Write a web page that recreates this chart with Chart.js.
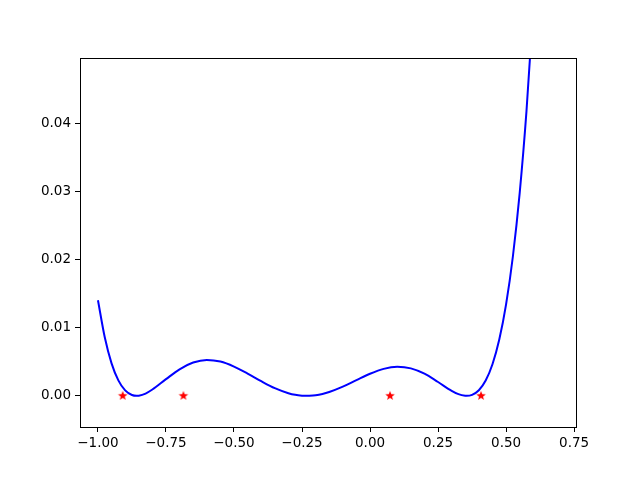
<!DOCTYPE html>
<html>
<head>
<meta charset="utf-8">
<script src="https://cdn.jsdelivr.net/npm/chart.js@4"></script>
<style>
  html, body { margin: 0; padding: 0; background: #fff; }
  #wrap { width: 640px; height: 480px; }
</style>
</head>
<body>
<div id="wrap"><canvas id="c" width="640" height="480"></canvas></div>
<script>
// curve samples
const curveX = [-1.00, -0.975, -0.95, -0.925, -0.90, -0.875, -0.858, -0.85, -0.825, -0.80,
  -0.75, -0.70, -0.65, -0.60, -0.55, -0.50, -0.45, -0.40, -0.35, -0.30,
  -0.275, -0.25, -0.233, -0.225, -0.20, -0.175, -0.15, -0.10, -0.05, 0.00,
  0.05, 0.10, 0.15, 0.20, 0.25, 0.30, 0.325, 0.35, 0.355, 0.375,
  0.40, 0.425, 0.45, 0.475, 0.50, 0.525, 0.55, 0.575, 0.60, 0.625];
const curveY = [0.01403, 0.00859, 0.00477, 0.00227, 0.00080, 0.00012, 0, 0.00002, 0.00034, 0.00093,
  0.00245, 0.00390, 0.00489, 0.00527, 0.00503, 0.00430, 0.00327, 0.00215, 0.00113, 0.00039,
  0.00015, 0.00003, 0, 0.00001, 0.00009, 0.00028, 0.00057, 0.00136, 0.00231, 0.00324,
  0.00396, 0.00426, 0.00403, 0.00325, 0.00203, 0.00074, 0.00025, 0.00001, 0, 0.00015,
  0.00083, 0.00225, 0.00464, 0.00826, 0.01342, 0.02045, 0.02976, 0.04179, 0.0570, 0.0760];

// red star markers
const starX = [-0.909, -0.686, 0.0735, 0.408];
const starY = [0, 0, 0, 0];

const xTicks = [-1.00, -0.75, -0.50, -0.25, 0.00, 0.25, 0.50, 0.75];
const yTicks = [0.00, 0.01, 0.02, 0.03, 0.04];

const fmt = (v, d) => {
  const s = Math.abs(v).toFixed(d);
  return (v < -1e-9 ? '\u2212' : '') + s;
};

// filled five-point star like matplotlib '*'
function makeStar(r) {
  const size = Math.ceil(r * 2 + 2);
  const cv = document.createElement('canvas');
  cv.width = size; cv.height = size;
  const g = cv.getContext('2d');
  const cx = size / 2, cy = size / 2, ri = r * 0.42;
  g.beginPath();
  for (let i = 0; i < 10; i++) {
    const rad = i % 2 === 0 ? r : ri;
    const a = -Math.PI / 2 + i * Math.PI / 5;
    const px = cx + rad * Math.cos(a), py = cy + rad * Math.sin(a);
    if (i === 0) g.moveTo(px, py); else g.lineTo(px, py);
  }
  g.closePath();
  g.fillStyle = '#ff0000';
  g.fill();
  return cv;
}

const frame = {
  id: 'frame',
  afterDraw(chart) {
    const { ctx, chartArea: a } = chart;
    ctx.save();
    ctx.strokeStyle = '#000';
    ctx.lineWidth = 1;
    ctx.strokeRect(Math.round(a.left) + 0.5, Math.round(a.top) + 0.5,
      Math.round(a.right - a.left), Math.round(a.bottom - a.top));
    ctx.restore();
  }
};

const font = { family: 'DejaVu Sans', size: 13.5 };

new Chart(document.getElementById('c'), {
  type: 'line',
  data: {
    datasets: [
      {
        type: 'scatter',
        data: starX.map((x, i) => ({ x, y: starY[i] })),
        pointStyle: makeStar(5),
        pointRadius: 5,
        showLine: false,
        order: 0,
      },
      {
        data: curveX.map((x, i) => ({ x, y: curveY[i] })),
        borderColor: '#0000ff',
        borderWidth: 2,
        pointRadius: 0,
        cubicInterpolationMode: 'monotone',
        fill: false,
        order: 1,
      },
    ],
  },
  options: {
    responsive: false,
    animation: false,
    layout: { padding: { left: 0, top: 58, right: 64, bottom: 0 } },
    plugins: { legend: { display: false }, tooltip: { enabled: false } },
    scales: {
      x: {
        type: 'linear',
        min: -1.066, max: 0.757,
        afterBuildTicks: s => { s.ticks = xTicks.map(v => ({ value: v })); },
        afterFit: s => { s.height = 53; },
        grid: { display: true, drawOnChartArea: false, drawTicks: true, tickLength: 5, color: '#000' },
        border: { display: false },
        ticks: { color: '#000', font, padding: 3, maxRotation: 0, callback: v => fmt(v, 2) },
      },
      y: {
        type: 'linear',
        min: -0.00457, max: 0.04958,
        afterBuildTicks: s => { s.ticks = yTicks.map(v => ({ value: v })); },
        afterFit: s => { s.width = 80; },
        grid: { display: true, drawOnChartArea: false, drawTicks: true, tickLength: 5, color: '#000' },
        border: { display: false },
        ticks: { color: '#000', font, padding: 4, callback: v => fmt(v, 2) },
      },
    },
  },
  plugins: [frame],
});
</script>
</body>
</html>
